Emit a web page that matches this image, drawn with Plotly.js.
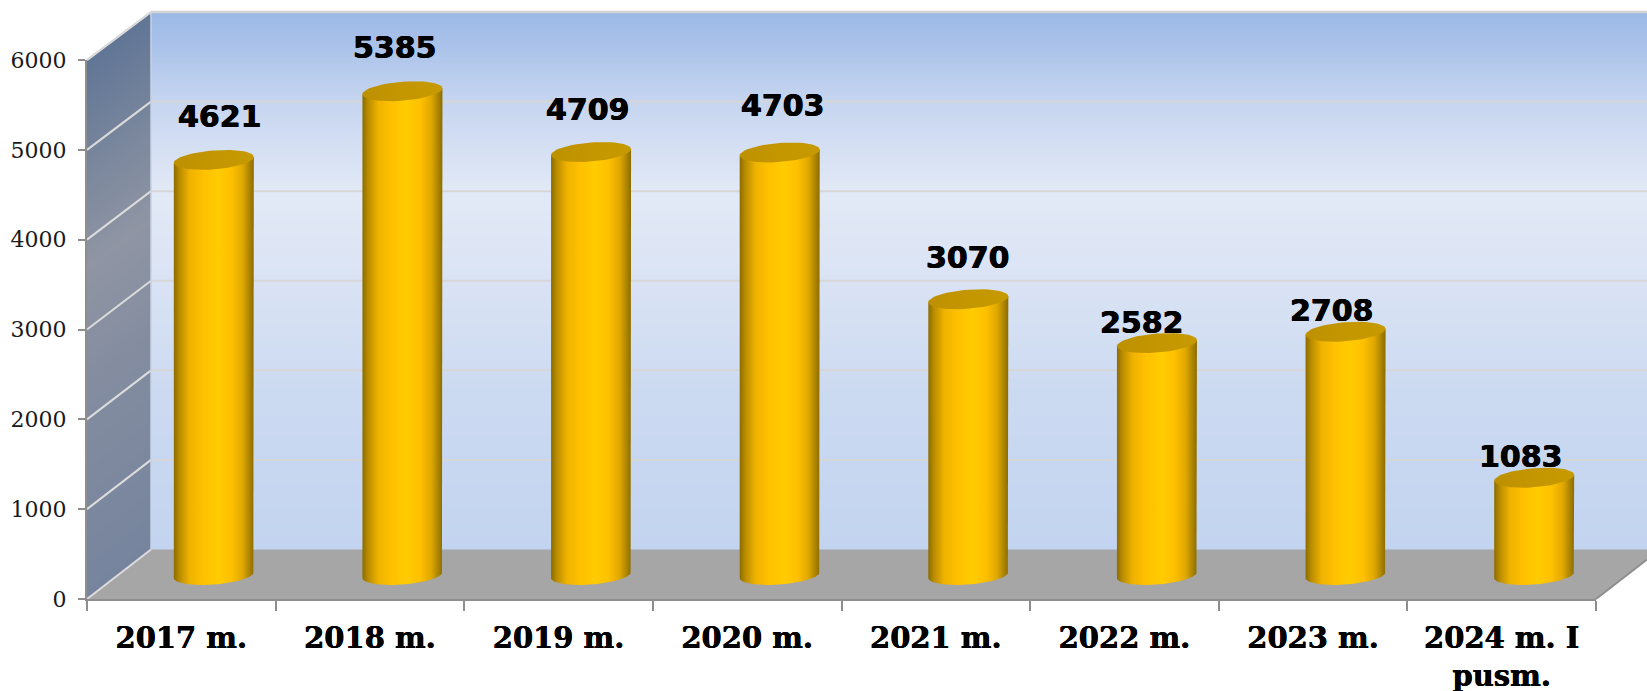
<!DOCTYPE html>
<html>
<head>
<meta charset="utf-8">
<script src="https://cdn.plot.ly/plotly-3.0.1.min.js"></script>
<style>html,body{margin:0;padding:0;background:#fff}#chart{width:1647px;height:691px}</style>
</head>
<body>
<div id="chart"></div>
<script>
const categories = ['2017 m.', '2018 m.', '2019 m.', '2020 m.', '2021 m.', '2022 m.', '2023 m.', '2024 m. I<br>pusm.'];
const values = [4621, 5385, 4709, 4703, 3070, 2582, 2708, 1083];
const yTicks = [0, 1000, 2000, 3000, 4000, 5000, 6000];

// label placement (pixels from the top of each cylinder), layout only
const labelDx = [6, -7, -3, 3, 0, -15, -14, -13];
const labelDy = [43, 44, 42, 47, 42, 21, 21, 21];

const W = 1647, H = 691;
const X = p => p / W, Y = p => 1 - p / H;
const frontL = 87, frontR = 1596, front0 = 599, front6000 = 60;
const wallL = 151, wallTop = 12, wallBot = 549.5;
const catW = (frontR - frontL) / 8, unitPx = (front0 - front6000) / 6000;
const backUnit = (wallBot - wallTop) / 6000;
const rx = 40, ry = 9.5, tilt = 3;

function lerpColor(stops, t) {
  for (let i = 1; i < stops.length; i++) {
    if (t <= stops[i][0]) {
      const [a, ca] = stops[i - 1], [b, cb] = stops[i];
      const f = (t - a) / (b - a);
      return 'rgb(' + ca.map((v, k) => Math.round(v + (cb[k] - v) * f)).join(',') + ')';
    }
  }
  return 'rgb(' + stops[stops.length - 1][1].join(',') + ')';
}

const shapes = [];
function poly(pts, fill) {
  shapes.push({type: 'path', xref: 'paper', yref: 'paper', layer: 'below', fillcolor: fill, line: {width: 0},
    path: 'M' + pts.map(p => X(p[0]) + ',' + Y(p[1])).join(' L') + ' Z'});
}
function seg(x0, y0, x1, y1, color, width) {
  shapes.push({type: 'line', xref: 'paper', yref: 'paper', layer: 'below',
    x0: X(x0), y0: Y(y0), x1: X(x1), y1: Y(y1), line: {color: color, width: width}});
}

const backStops = [[0, [155, 184, 230]], [0.164, [198, 213, 240]], [0.33, [226, 233, 246]], [0.45, [221, 229, 245]], [0.7, [204, 218, 241]], [1, [195, 212, 240]]];
const sideStops = [[0, [97, 117, 150]], [0.2, [122, 135, 157]], [0.38, [143, 149, 163]], [0.6, [132, 141, 160]], [1, [118, 132, 158]]];

for (let y = wallTop; y < wallBot; y += 3) {
  poly([[wallL, y], [W, y], [W, wallBot], [wallL, wallBot]], lerpColor(backStops, (y - wallTop) / (wallBot - wallTop)));
}
for (let s = 0; s < 180; s++) {
  const f = s / 180;
  poly([[frontL, front6000 + f * (front0 - front6000)], [wallL, wallTop + f * (wallBot - wallTop)], [wallL, wallBot], [frontL, front0]], lerpColor(sideStops, f));
}
const rightY = front0 - (W - frontR) * (front0 - wallBot) / (wallL - frontL);
poly([[frontL, front0], [wallL, wallBot], [W, wallBot], [W, rightY], [frontR, front0]], '#a6a6a6');

yTicks.forEach(v => {
  const y = front0 - v * unitPx, yb = wallBot - v * backUnit;
  seg(frontL, y, wallL, yb, '#dcdcdc', 2);
  if (v > 0) seg(wallL, yb, W, yb, '#d6d6d6', 2);
});
seg(wallL, wallTop, wallL, wallBot, '#c9d3e6', 1.5);
seg(frontR, front0, W, rightY, '#8e8e8e', 2);

const xIdx = categories.map((_, i) => i);
function arcPoints(i, base, from, to, n) {
  const xs = [], ys = [];
  for (let k = 0; k <= n; k++) {
    const t = from + (to - from) * k / n;
    xs.push(i + rx * Math.cos(t) / catW);
    ys.push(base + (tilt * Math.cos(t) + ry * Math.sin(t)) / unitPx);
  }
  return [xs, ys];
}

const traces = [];
// invisible carrier for the category axis on the front plane
traces.push({type: 'scatter', mode: 'markers', x: categories, y: values, xaxis: 'x', yaxis: 'y',
  marker: {opacity: 0, size: 1}, hoverinfo: 'skip', showlegend: false});
// the bars themselves
traces.push({type: 'bar', x: xIdx, y: values, width: 0.4, xaxis: 'x2', yaxis: 'y2',
  marker: {color: '#ffc000', line: {width: 0}}, hoverinfo: 'y', showlegend: false});
// cylinder shading
values.forEach((v, i) => {
  const [bx, by] = arcPoints(i, 0, 0, -Math.PI, 40);
  const xs = [i + rx / catW].concat(bx, [i - rx / catW, i + rx / catW]);
  const ys = [v + tilt / unitPx].concat(by, [v - tilt / unitPx, v + tilt / unitPx]);
  traces.push({type: 'scatter', mode: 'lines', x: xs, y: ys, xaxis: 'x2', yaxis: 'y2', fill: 'toself',
    line: {width: 0}, hoverinfo: 'skip', showlegend: false,
    fillgradient: {type: 'horizontal', colorscale: [[0, '#8c6c00'], [0.07, '#b98c00'], [0.2, '#efb300'], [0.36, '#ffc000'], [0.55, '#ffcc00'], [0.72, '#ffc000'], [0.86, '#dfa800'], [0.95, '#a98200'], [1, '#8a6c00']]}});
  const [tx, ty] = arcPoints(i, v, 0, 2 * Math.PI, 60);
  traces.push({type: 'scatter', mode: 'lines', x: tx, y: ty, xaxis: 'x2', yaxis: 'y2', fill: 'toself',
    line: {width: 0}, hoverinfo: 'skip', showlegend: false,
    fillgradient: {type: 'horizontal', colorscale: [[0, '#bd9000'], [0.5, '#c49600'], [1, '#c69a00']]}});
});

const heavy = '0.45px 0 0 #000, -0.45px 0 0 #000';
const annotations = values.map((v, i) => ({
  x: i, y: v, xref: 'x2', yref: 'y2', text: String(v), showarrow: false,
  xanchor: 'center', yanchor: 'middle', xshift: labelDx[i], yshift: labelDy[i],
  font: {family: '"DejaVu Sans", sans-serif', size: 30, weight: 700, color: '#000', shadow: heavy}
}));

const base2 = 575, below = 300, cx = 32.5;
const layout = {
  width: W, height: H, showlegend: false, hovermode: 'closest',
  margin: {l: 0, r: 0, t: 0, b: 0},
  paper_bgcolor: '#fff', plot_bgcolor: 'rgba(0,0,0,0)',
  bargap: 0,
  xaxis: {type: 'category', categoryorder: 'array', categoryarray: categories, domain: [X(frontL), X(frontR)],
    range: [-0.5, 7.5], anchor: 'y', tickson: 'boundaries', ticks: 'outside', ticklen: 10, tickwidth: 2, tickcolor: '#8e8e8e',
    showline: true, linecolor: '#8e8e8e', linewidth: 2, showgrid: false, zeroline: false, tickangle: 0, automargin: false,
    ticklabelstandoff: 12,
    tickfont: {family: '"DejaVu Serif", serif', size: 29, weight: 700, color: '#000', shadow: '0.3px 0 0 #000, -0.3px 0 0 #000'}},
  yaxis: {domain: [Y(front0), Y(front6000)], range: [0, 6000], anchor: 'x', tickmode: 'array', tickvals: yTicks,
    ticktext: yTicks.map(String), ticks: 'outside', ticklen: 7, tickwidth: 2, tickcolor: '#8e8e8e',
    showline: true, linecolor: '#8e8e8e', linewidth: 2, showgrid: false, zeroline: false, automargin: false,
    ticklabelstandoff: 7,
    tickfont: {family: '"DejaVu Serif", serif', size: 22, color: '#1a1a1a'}},
  xaxis2: {domain: [X(frontL + cx), X(frontR + cx)], range: [-0.5, 7.5], anchor: 'y2', visible: false, fixedrange: true},
  yaxis2: {domain: [Y(base2 + below * unitPx), Y(base2 - 6000 * unitPx)], range: [-below, 6000], anchor: 'x2', visible: false, fixedrange: true},
  shapes: shapes,
  annotations: annotations
};
seg(frontL, front6000, wallL, wallTop, '#d9d9d9', 2);
seg(wallL, wallTop, W, wallTop, '#d4d4d4', 2.5);

Plotly.newPlot('chart', traces, layout, {displayModeBar: false, responsive: false});
</script>
</body>
</html>
